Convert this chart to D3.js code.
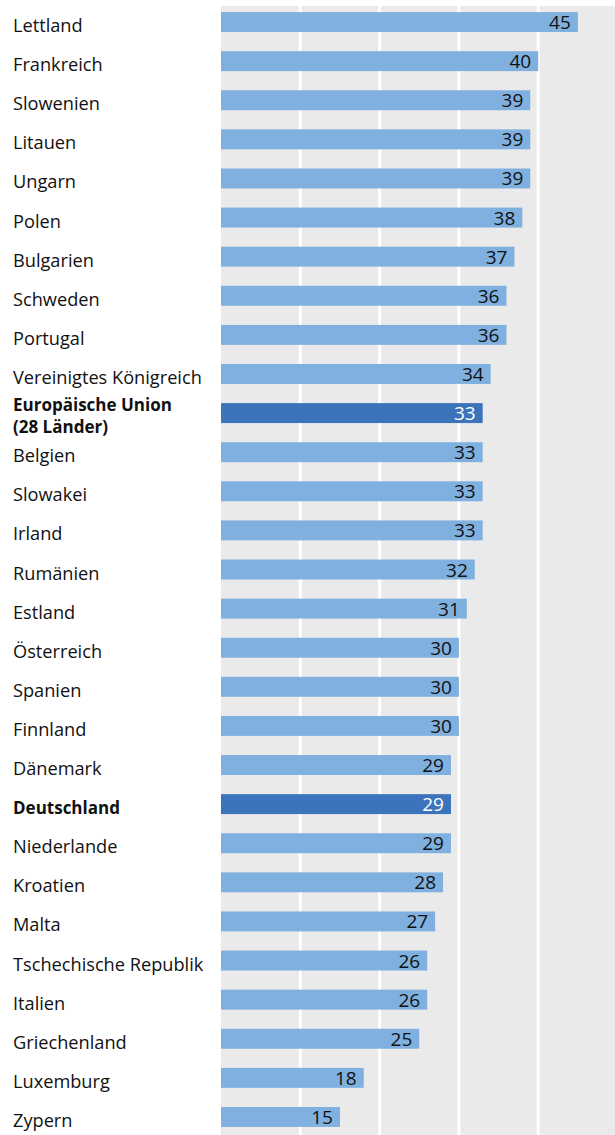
<!DOCTYPE html>
<html>
<head>
<meta charset="utf-8">
<script src="https://cdn.jsdelivr.net/npm/d3@7"></script>
<style>
  html, body { margin: 0; padding: 0; background: #fff; }
  svg { display: block; }
  text { font-family: "Open Sans", "Noto Sans", sans-serif; }
</style>
</head>
<body>
<svg id="chart" width="615" height="1135"></svg>
<script>
// Länder in Anzeigereihenfolge (oben nach unten)
const countries = [
  "Lettland", "Frankreich", "Slowenien", "Litauen", "Ungarn", "Polen",
  "Bulgarien", "Schweden", "Portugal", "Vereinigtes Königreich",
  "Europäische Union\n(28 Länder)", "Belgien", "Slowakei", "Irland",
  "Rumänien", "Estland", "Österreich", "Spanien", "Finnland", "Dänemark",
  "Deutschland", "Niederlande", "Kroatien", "Malta",
  "Tschechische Republik", "Italien", "Griechenland", "Luxemburg", "Zypern"
];
const values = [
  45, 40, 39, 39, 39, 38, 37, 36, 36, 34,
  33, 33, 33, 33, 32, 31, 30, 30, 30, 29,
  29, 29, 28, 27, 26, 26, 25, 18, 15
];
// hervorgehobene Einträge
const highlighted = ["Europäische Union\n(28 Länder)", "Deutschland"];
const xTicks = [10, 20, 30, 40, 50];

const data = countries.map((c, i) => ({ country: c, value: values[i], hl: highlighted.includes(c) }));

const svg = d3.select("#chart");
const W = 615, H = 1135;
const plotLeft = 221, plotTop = 6;

const x = d3.scaleLinear().domain([0, 50]).range([plotLeft, 617.5]);
const y = d3.scaleBand()
  .domain(countries)
  .range([2.5, 1136.5])
  .paddingInner(0.49)
  .paddingOuter(0.245);

// Hintergrund der Zeichenfläche
svg.append("rect")
  .attr("x", plotLeft).attr("y", plotTop)
  .attr("width", W - plotLeft).attr("height", H - plotTop)
  .attr("fill", "#eaeaea");

// vertikale Gitterlinien
svg.append("g").selectAll("line")
  .data(xTicks)
  .join("line")
  .attr("x1", d => x(d)).attr("x2", d => x(d))
  .attr("y1", plotTop).attr("y2", H)
  .attr("stroke", "#fff").attr("stroke-width", 3);

// Balken
svg.append("g").selectAll("rect")
  .data(data)
  .join("rect")
  .attr("x", x(0))
  .attr("y", d => y(d.country))
  .attr("width", d => x(d.value) - x(0))
  .attr("height", y.bandwidth())
  .attr("fill", d => d.hl ? "#3c74bc" : "#7fb0df");

// Werte im Balken
svg.append("g").selectAll("text")
  .data(data)
  .join("text")
  .attr("x", d => x(d.value) - 7)
  .attr("y", d => y(d.country) + y.bandwidth() / 2 + 7)
  .attr("text-anchor", "end")
  .attr("font-size", 19)
  .attr("fill", d => d.hl ? "#fff" : "#111")
  .text(d => d.value);

// Länderbeschriftung, mehrzeilige Namen als getrennte Zeilen
const labelLines = [];
data.forEach(d => {
  const lines = d.country.split("\n");
  const c = y(d.country) + y.bandwidth() / 2;
  lines.forEach((line, i) => {
    const base = lines.length > 1 ? c - 2 + i * 22 : c + 10;
    labelLines.push({ text: line, base, hl: d.hl });
  });
});

svg.append("g").selectAll("text")
  .data(labelLines)
  .join("text")
  .attr("x", 13)
  .attr("y", d => d.base)
  .attr("font-size", d => d.hl ? 17 : 18.2)
  .attr("font-weight", d => d.hl ? "bold" : "normal")
  .attr("fill", "#111")
  .text(d => d.text);
</script>
</body>
</html>
